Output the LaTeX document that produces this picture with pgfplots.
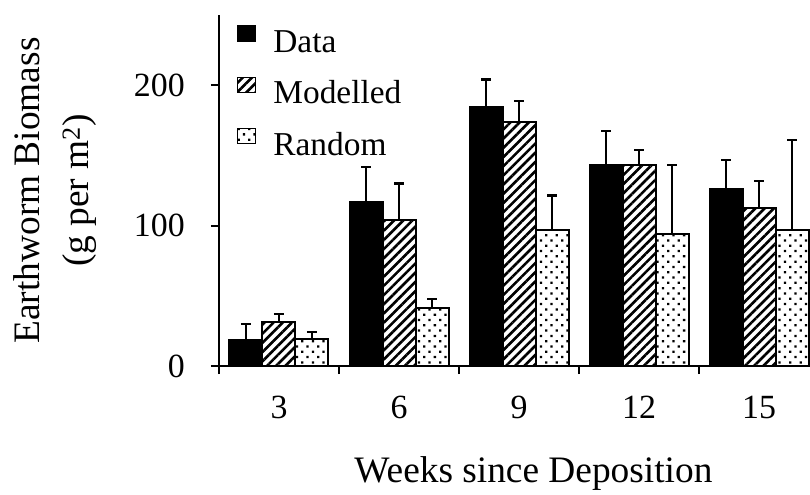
\documentclass[border=0pt]{standalone}
\usepackage{fontspec}
\setmainfont{Liberation Serif}
\usepackage{pgfplots}
\usepackage{pgfplotstable}
\pgfplotsset{compat=1.18}
\usetikzlibrary{patterns.meta}

% upper error bars only: value and error (cap - value)
\pgfplotstableread{
x data derr model merr rand rerr
0 18.5 11.5 31 6 19 5
1 117 25 104 26 41 7
2 184.5 19.5 174 15 97 24.5
3 143 24.5 143 11 94 49
4 126 21 112.5 19.5 97 64
}\biomass

\pgfplotsset{
  errup/.style={
    error bars/.cd, y dir=plus, y explicit,
    error bar style={line width=2.2bp, black},
    error mark options={rotate=90, mark size=5bp, line width=2.2bp},
  },
}

\begin{document}
\begin{tikzpicture}
\begin{axis}[
  scale only axis,
  width=591bp, height=351bp,
  xmin=-0.5, xmax=4.425,
  ymin=0, ymax=250,
  axis lines=left,
  axis line style={-, line width=1.8bp},
  ybar=0pt, bar width=33bp,
  ytick={0,100,200},
  xtick={-0.5,0.5,1.5,2.5,3.5},
  xticklabels={},
  extra x ticks={0,1,2,3,4},
  extra x tick labels={3,6,9,12,15},
  extra x tick style={major tick length=0pt},
  tick align=outside, major tick length=8bp,
  tick style={line width=1.8bp, black},
  /pgf/number format/assume math mode=true,
  tick label style={font=\fontsize{34}{40}\selectfont},
  yticklabel style={anchor=east, inner sep=0pt, xshift=-26bp},
  xticklabel style={anchor=north, inner sep=0pt, yshift=-30bp},
  ylabel={Earthworm Biomass\\(g per m\textsuperscript{2})},
  ylabel style={align=center, font=\fontsize{37.5}{50}\selectfont,
    at={(axis description cs:-0.2775,0.5)}, anchor=center},
  xlabel={Weeks since Deposition},
  xlabel style={font=\fontsize{37.5}{45}\selectfont,
    at={(axis description cs:0.532,-0.3305)}, anchor=base},
  legend image code/.code={\draw[#1, line width=1.4bp] (0bp,0bp) rectangle (18bp,15bp);},
  legend cell align=left,
  legend style={at={(rel axis cs:0,1)}, anchor=north west, xshift=18bp, yshift=-10.5bp,
    draw=none, fill=none, inner sep=0pt, outer sep=0pt, row sep=24bp,
    font=\fontsize{33.5}{40}\selectfont,
    nodes={inner sep=0pt, text height=23bp, text depth=0bp},
    /tikz/every odd column/.append style={column sep=17bp}},
]
\addplot[draw=black, line width=2bp, fill=black, errup]
  table[x=x, y=data, y error=derr] {\biomass};
\addplot[draw=black, line width=2bp,
  pattern={Lines[angle=45, distance=6.5bp, line width=2.6bp]}, errup]
  table[x=x, y=model, y error=merr] {\biomass};
\addplot[draw=black, line width=2bp,
  pattern={Dots[angle=45, distance=7.5bp, radius=1.6bp]}, errup]
  table[x=x, y=rand, y error=rerr] {\biomass};
\legend{Data, Modelled, Random}
\end{axis}
\pgfresetboundingbox
\useasboundingbox (-219bp,-129bp) rectangle (591bp,366bp);
\end{tikzpicture}
\end{document}
